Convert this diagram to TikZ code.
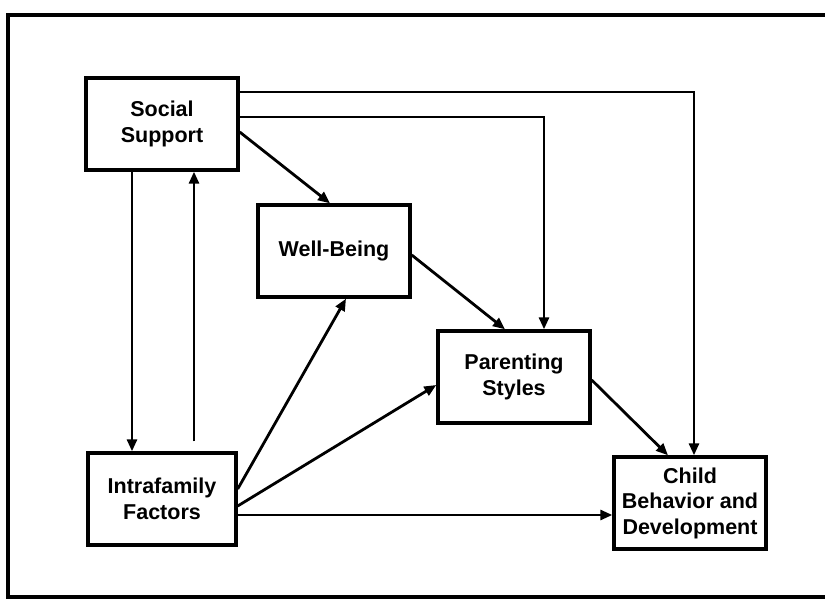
\documentclass[tikz,border=0pt]{standalone}
\usepackage{fontspec}
\setmainfont{Liberation Sans}
\usetikzlibrary{arrows.meta, positioning}

\begin{document}
\begin{tikzpicture}[x=1pt, y=1pt, >={Triangle[length=12pt, width=10pt]},
	box/.style={draw, rectangle, line width=3.4pt, minimum width=152pt, minimum height=92pt, align=center, font=\fontsize{21.5}{25.5}\selectfont\bfseries},
	link/.style={->, line width=2.8pt}]
	
	\useasboundingbox (0,0) rectangle (825,603);
	
	% outer frame (open on the right)
	\draw[line width=3.4pt] (830,588) -- (8,588) -- (8,6) -- (830,6);
	
	% the five boxes
	\node[box] at (162,479) (social) {Social\\Support};
	\node[box, below right=31.6pt and 16.6pt of social] (wellbeing) {Well-Being};
	\node[box, below right=30.6pt and 24.6pt of wellbeing] (parenting) {Parenting\\Styles};
	\node[box, below right=30.6pt and 20.6pt of parenting] (child) {Child\\Behavior and\\Development};
	\node[box, below=279.6pt of social, minimum width=148pt] (intra) {Intrafamily\\Factors};
	
	% social support and intrafamily factors
	\draw[link] ([xshift=-30pt]social.south) -- ([xshift=-30pt]intra.north);
	\draw[link] ([xshift=32pt, yshift=10pt]intra.north) -- ([xshift=32pt]social.south);
	
	% from social support
	\draw[link] ([yshift=-8pt]social.east) -- ([xshift=-4pt]wellbeing.north);
	\draw[link] ([yshift=32pt]social.east) -| ([xshift=4pt]child.north);
	\draw[link] ([yshift=7pt]social.east) -| ([xshift=30pt]parenting.north);
	
	% down the chain
	\draw[link] ([yshift=-4pt]wellbeing.east) -- ([xshift=-9pt]parenting.north);
	\draw[link] ([yshift=-3pt]parenting.east) -- ([xshift=-22pt]child.north);
	
	% from intrafamily factors
	\draw[link] ([yshift=10pt]intra.east) -- ([xshift=12pt]wellbeing.south);
	\draw[link] ([yshift=-7pt]intra.east) -- ([yshift=-8pt]parenting.west);
	\draw[link] ([yshift=-16pt]intra.east) -- ([yshift=-12pt]child.west);
	
\end{tikzpicture}
\end{document}
